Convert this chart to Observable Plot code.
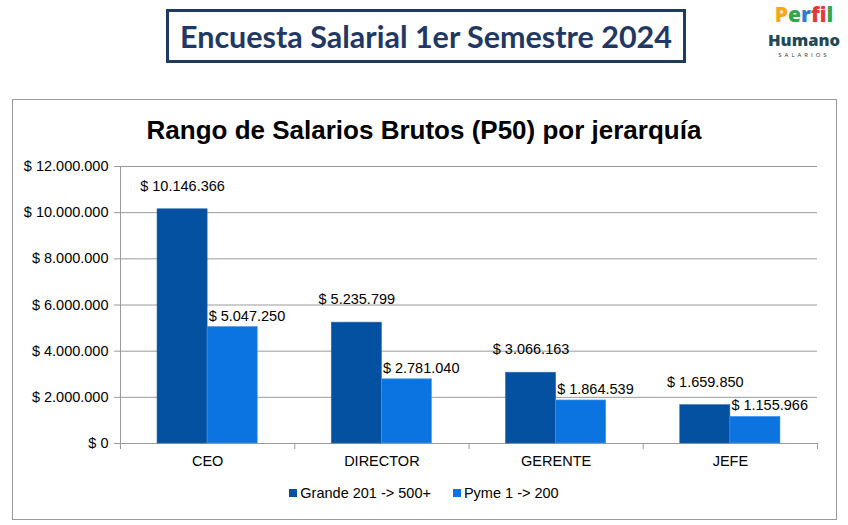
<!DOCTYPE html>
<html>
<head>
<meta charset="utf-8">
<script src="https://cdn.jsdelivr.net/npm/d3@7"></script>
<script src="https://cdn.jsdelivr.net/npm/@observablehq/plot@0.6"></script>
<style>
  html, body { margin: 0; padding: 0; background: #fff; }
  #page { position: relative; width: 848px; height: 525px; overflow: hidden; font-family: "Liberation Sans", Arial, sans-serif; }
  #hbox { position: absolute; left: 166px; top: 9px; width: 514px; height: 48px; border: 3px solid #1F3B60; display: flex; align-items: center; justify-content: center; }
  #htitle { font-family: Lato, sans-serif; font-weight: 700; font-size: 30.5px; color: #1F3864; white-space: nowrap; }
  #logo { position: absolute; left: 760px; top: 0; width: 88px; height: 62px; }
  #logo > div { position: absolute; left: 0; width: 88px; text-align: center; white-space: nowrap; }
  #perfil { top: 0; font-family: "Open Sans", sans-serif; font-weight: 800; font-size: 21px; line-height: 29px; }
  #humano { top: 28px; font-family: "Open Sans", sans-serif; font-weight: 800; font-size: 16.5px; line-height: 23px; color: #1F4A55; }
  #salarios { top: 51px; font-family: "Open Sans", sans-serif; font-size: 6px; line-height: 9px; letter-spacing: 3px; color: #333; }
  #cbox { position: absolute; left: 12px; top: 99px; width: 823px; height: 419px; border: 1px solid #9a9a9a; }
  #ctitle { position: absolute; left: 0; width: 848px; top: 115px; text-align: center; font-weight: 700; font-size: 26px; color: #000; }
  #chart { position: absolute; left: 0; top: 0; }
  #legend { position: absolute; left: 0; width: 848px; top: 485px; display: flex; justify-content: center; gap: 22px; font-size: 14.5px; color: #000; }
  .li { display: flex; align-items: center; }
  .sw { width: 8px; height: 8px; margin-right: 3px; }
</style>
</head>
<body>
<div id="page">
  <div id="hbox"><span id="htitle">Encuesta Salarial 1er Semestre 2024</span></div>
  <div id="logo">
    <div id="perfil"><span style="color:#F6A81C">P</span><span style="color:#2EA84A">e</span><span style="color:#2D7DD2">r</span><span style="color:#E53935">f</span><span style="color:#2D7DD2">i</span><span style="color:#2EA84A">l</span></div>
    <div id="humano">Humano</div>
    <div id="salarios">SALARIOS</div>
  </div>
  <div id="cbox"></div>
  <div id="chart"></div>
  <div id="ctitle">Rango de Salarios Brutos (P50) por jerarquía</div>
  <div id="legend"></div>
</div>
<script>
const categories = ["CEO", "DIRECTOR", "GERENTE", "JEFE"];
const seriesNames = ["Grande 201 -> 500+", "Pyme 1 -> 200"];
const grande = [10146366, 5235799, 3066163, 1659850];
const pyme = [5047250, 2781040, 1864539, 1155966];
const yTicks = [0, 2000000, 4000000, 6000000, 8000000, 10000000, 12000000];
const colors = ["#0451A1", "#0B74E0"];

const locale = d3.formatLocale({decimal: ",", thousands: ".", grouping: [3], currency: ["$ ", ""]});
const fmt = v => "$ " + locale.format(",.0f")(v);

const rows = [];
categories.forEach((c, i) => {
  rows.push({cat: c, i, serie: seriesNames[0], value: grande[i]});
  rows.push({cat: c, i, serie: seriesNames[1], value: pyme[i]});
});
const gRows = rows.filter(d => d.serie === seriesNames[0]);
const pRows = rows.filter(d => d.serie === seriesNames[1]);

// bar group occupies the middle of each category band
const x1 = d => d.i + (d.serie === seriesNames[0] ? 0.2125 : 0.5);
const x2 = d => d.i + (d.serie === seriesNames[0] ? 0.5 : 0.7875);

const plot = Plot.plot({
  width: 848,
  height: 525,
  marginLeft: 120,
  marginRight: 31,
  marginTop: 166,
  marginBottom: 82,
  style: {background: "transparent", fontFamily: "Liberation Sans, Arial, sans-serif", overflow: "visible"},
  x: {type: "linear", domain: [0, categories.length], axis: null},
  y: {domain: [0, 12000000], axis: null},
  color: {domain: seriesNames, range: colors},
  marks: [
    Plot.gridY(yTicks.slice(1), {stroke: "#9a9a9a", strokeOpacity: 1}),
    Plot.ruleX([0], {stroke: "#9a9a9a"}),
    Plot.ruleY([0], {stroke: "#9a9a9a"}),
    Plot.axisY({ticks: yTicks, tickSize: 6, tickPadding: 6, tickFormat: fmt, fontSize: 14.5, stroke: "#9a9a9a", strokeOpacity: 1, fill: "#000", label: null}),
    Plot.ruleX(d3.range(categories.length + 1), {y1: 0, y2: 0, insetBottom: -6, stroke: "#9a9a9a"}),
    Plot.axisX({ticks: categories.map((c, i) => i + 0.5), tickSize: 0, tickPadding: 12, tickFormat: d => categories[Math.floor(d)], fontSize: 14.5, fill: "#000", label: null}),
    Plot.rectY(rows, {x1, x2, y1: 0, y2: "value", fill: "serie", stroke: d => d.serie === seriesNames[0] ? "#2C68AE" : "#4D97E8", strokeWidth: 0.6}),
    Plot.text(gRows, {x: d => d.i + 0.356, y: "value", text: d => fmt(d.value), dy: -23, fontSize: 14.5, fill: "#000"}),
    Plot.text(pRows, {x: d => d.i + 0.5, y: "value", text: d => fmt(d.value), textAnchor: "start", dx: 1, dy: -11, fontSize: 14.5, fill: "#000"})
  ]
});
document.getElementById("chart").appendChild(plot);

const legend = document.getElementById("legend");
seriesNames.forEach((s, k) => {
  const item = document.createElement("div");
  item.className = "li";
  const sw = document.createElement("div");
  sw.className = "sw";
  sw.style.background = colors[k];
  const t = document.createElement("span");
  t.textContent = s;
  item.appendChild(sw);
  item.appendChild(t);
  legend.appendChild(item);
});
</script>
</body>
</html>
